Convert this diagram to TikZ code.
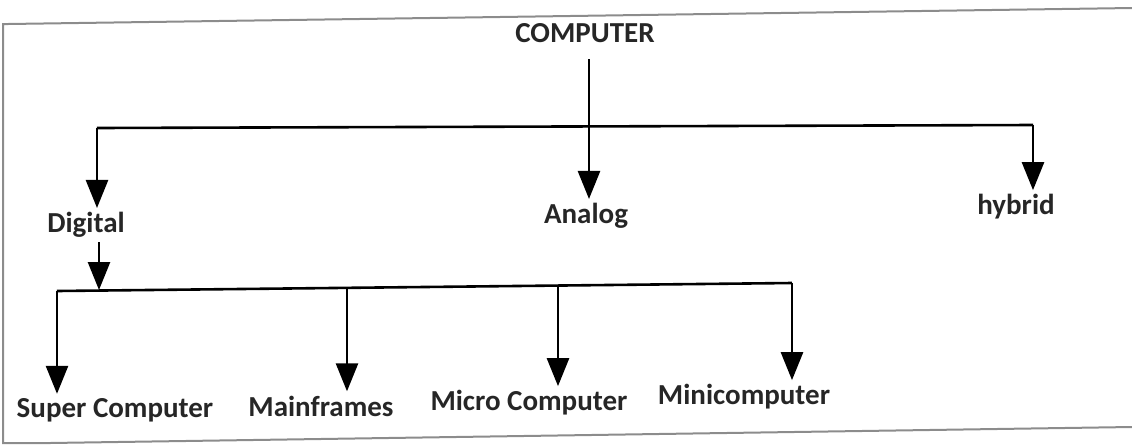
\documentclass[tikz,border=0pt]{standalone}
\usepackage{fontspec}
\setmainfont{Carlito}
\usetikzlibrary{arrows.meta}
\tikzset{
  lbl/.style={inner sep=2pt, font=\fontsize{14.5}{17}\selectfont\bfseries, text=black!85},
  bar/.style={draw, line width=1.3pt},
  drop/.style={draw, line width=1.3pt, -{Triangle[width=11pt,length=14pt]}}
}
\begin{document}
\begin{tikzpicture}[x=0.5pt, y=-0.5pt]
\useasboundingbox (0,0) rectangle (1132,446);
% frame of the scanned page
\path[draw=black!45, line width=1pt] (1132,8) -- (8,24) -- (3,24) -- (3,443) -- (50,443) -- (1132,427);

\node[lbl] (computer) at (585,33) {COMPUTER};
\node[lbl] (digital) at (86,225) {Digital};
\node[lbl] (analog) at (586,216) {Analog};
\node[lbl] (hybrid) at (1016,207) {hybrid};
\node[lbl] (super) at (115,410) {Super Computer};
\node[lbl] (main) at (321,406) {Mainframes};
\node[lbl] (micro) at (529,403) {Micro Computer};
\node[lbl] (mini) at (744,397) {Minicomputer};

\coordinate (tl) at (97,128);
\coordinate (tc) at (589,127);
\coordinate (tr) at (1033,125);
\coordinate (bl) at (57,291);
\coordinate (bc) at (99,290);
\coordinate (b2) at (347,288);
\coordinate (b3) at (558,287);
\coordinate (br) at (792,283);

\path[bar] ([yshift=-6pt]tc |- computer.south) -- (tc);
\path[bar] (tl) -- (tr);
\path[drop] (tl) -- (tl |- digital.north);
\path[drop] (tc) -- (tc |- analog.north);
\path[drop] (tr) -- (tr |- hybrid.north);

\path[drop] (bc |- digital.south) -- (bc);
\path[bar] (bl) -- (br);
\path[drop] (bl) -- (bl |- super.north);
\path[drop] (b2) -- (b2 |- main.north);
\path[drop] (b3) -- (b3 |- micro.north);
\path[drop] (br) -- (br |- mini.north);
\end{tikzpicture}
\end{document}
